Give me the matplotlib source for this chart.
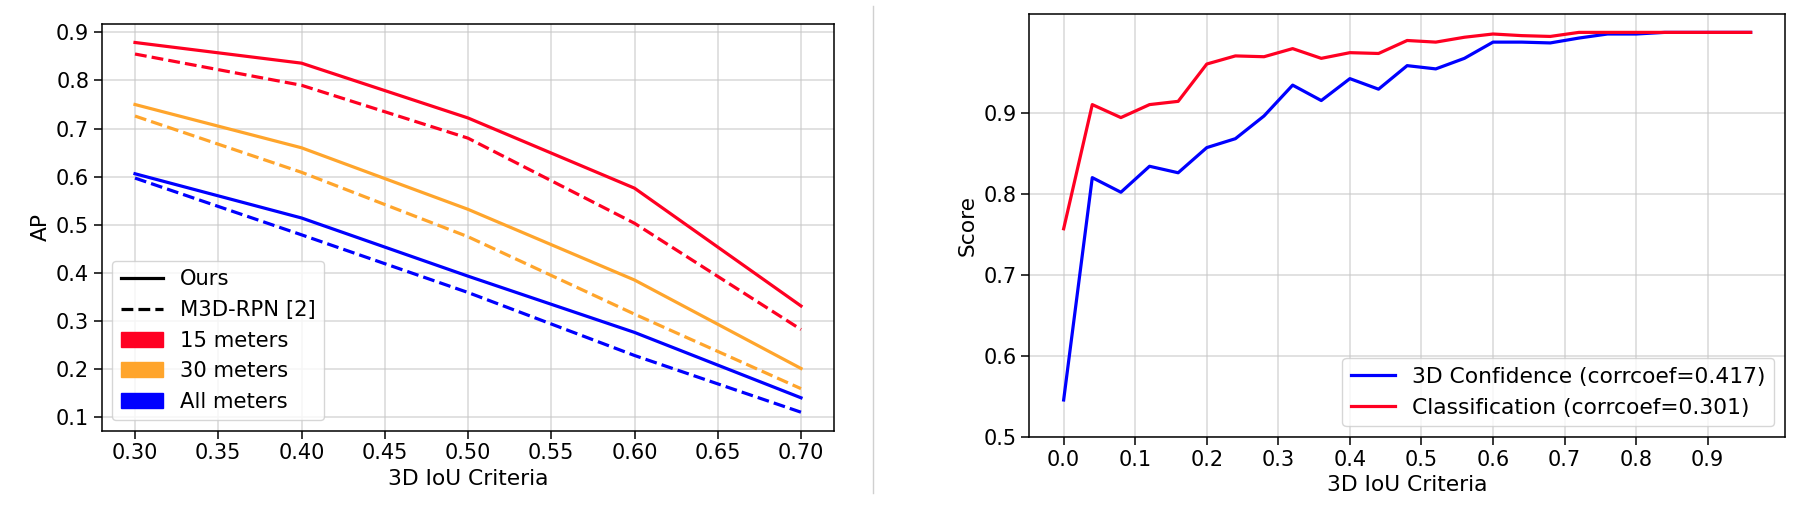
"""Two-panel figure: AP vs 3D IoU criteria, and score vs 3D IoU criteria."""

import matplotlib
matplotlib.use("Agg")
import matplotlib.pyplot as plt
import numpy as np
from matplotlib.lines import Line2D
from matplotlib.patches import Patch

# ---- left panel data (AP at each IoU threshold) ----
iou_thresholds = [0.30, 0.40, 0.50, 0.60, 0.70]
ours_15m = [0.879, 0.836, 0.722, 0.576, 0.331]
m3d_15m = [0.855, 0.790, 0.680, 0.503, 0.282]
ours_30m = [0.750, 0.660, 0.532, 0.385, 0.201]
m3d_30m = [0.726, 0.609, 0.475, 0.314, 0.159]
ours_all = [0.606, 0.514, 0.393, 0.276, 0.140]
m3d_all = [0.597, 0.479, 0.359, 0.228, 0.110]

range_labels = ["15 meters", "30 meters", "All meters"]
method_labels = ["Ours", "M3D-RPN [2]"]

# ---- right panel data (score vs IoU) ----
iou_bins = [0.00, 0.04, 0.08, 0.12, 0.16, 0.20, 0.24, 0.28, 0.32, 0.36,
            0.40, 0.44, 0.48, 0.52, 0.56, 0.60, 0.64, 0.68, 0.72, 0.76,
            0.80, 0.84, 0.88, 0.92, 0.96]
conf_3d = [0.546, 0.820, 0.802, 0.834, 0.826, 0.857, 0.868, 0.896, 0.934, 0.915,
           0.942, 0.929, 0.958, 0.954, 0.967, 0.987, 0.987, 0.986, 0.992, 0.997,
           0.997, 0.999, 0.999, 0.999, 0.999]
cls_score = [0.757, 0.910, 0.894, 0.910, 0.914, 0.960, 0.970, 0.969, 0.979, 0.967,
             0.974, 0.973, 0.989, 0.987, 0.993, 0.997, 0.995, 0.994, 0.999, 0.999,
             0.999, 0.999, 0.999, 0.999, 0.999]
score_labels = ["3D Confidence (corrcoef=0.417)", "Classification (corrcoef=0.301)"]

RED = "#ff0022"
ORANGE = "#ffa52c"
BLUE = "#0000ff"
LW = 2.3

plt.rcParams.update({
    "font.family": "DejaVu Sans",
    "font.size": 15,
    "axes.labelsize": 15.7,
    "axes.linewidth": 1.1,
    "xtick.major.size": 5.5,
    "ytick.major.size": 5.5,
    "xtick.major.width": 1.1,
    "ytick.major.width": 1.1,
    "legend.fontsize": 15.2,
})

fig = plt.figure(figsize=(18.12, 5.21), dpi=100)
W, H = 1812.0, 521.0
ax1 = fig.add_axes([101.7 / W, 1 - 430.7 / H, (834.3 - 101.7) / W, (430.7 - 24) / H])
ax2 = fig.add_axes([1029.3 / W, 1 - 437.3 / H, (1785 - 1029.3) / W, (437.3 - 14) / H])

# left panel
for ours, m3d, c in [(ours_15m, m3d_15m, RED), (ours_30m, m3d_30m, ORANGE), (ours_all, m3d_all, BLUE)]:
    ax1.plot(iou_thresholds, ours, color=c, lw=LW, ls="-")
    ax1.plot(iou_thresholds, m3d, color=c, lw=LW, ls="--")
ax1.grid(True, color="#c8c8c8", alpha=0.6, lw=1.3)
ax1.set_xlabel("3D IoU Criteria")
ax1.set_ylabel("AP")
handles = [
    Line2D([], [], color="black", lw=LW, ls="-", label=method_labels[0]),
    Line2D([], [], color="black", lw=LW, ls="--", label=method_labels[1]),
    Patch(color=RED, label=range_labels[0]),
    Patch(color=ORANGE, label=range_labels[1]),
    Patch(color=BLUE, label=range_labels[2]),
]
ax1.legend(handles=handles, loc="lower left")

# right panel
ax2.plot(iou_bins, conf_3d, color=BLUE, lw=LW, label=score_labels[0])
ax2.plot(iou_bins, cls_score, color=RED, lw=LW, label=score_labels[1])
ax2.set_ylim(bottom=0.5)
ax2.set_yticks(np.arange(0.5, 0.95, 0.1))
ax2.set_xticks(np.arange(0.0, 0.95, 0.1))
ax2.grid(True, color="#c8c8c8", alpha=0.6, lw=1.3)
ax2.set_xlabel("3D IoU Criteria")
ax2.set_ylabel("Score")
ax2.legend(loc="lower right", fontsize=15.7)

# thin separator between the panels
fig.add_artist(Line2D([873.3 / W, 873.3 / W], [1 - 6 / H, 1 - 493 / H],
                      color="#d0d0d0", lw=1.0))

fig.savefig("out.png", dpi=100)
